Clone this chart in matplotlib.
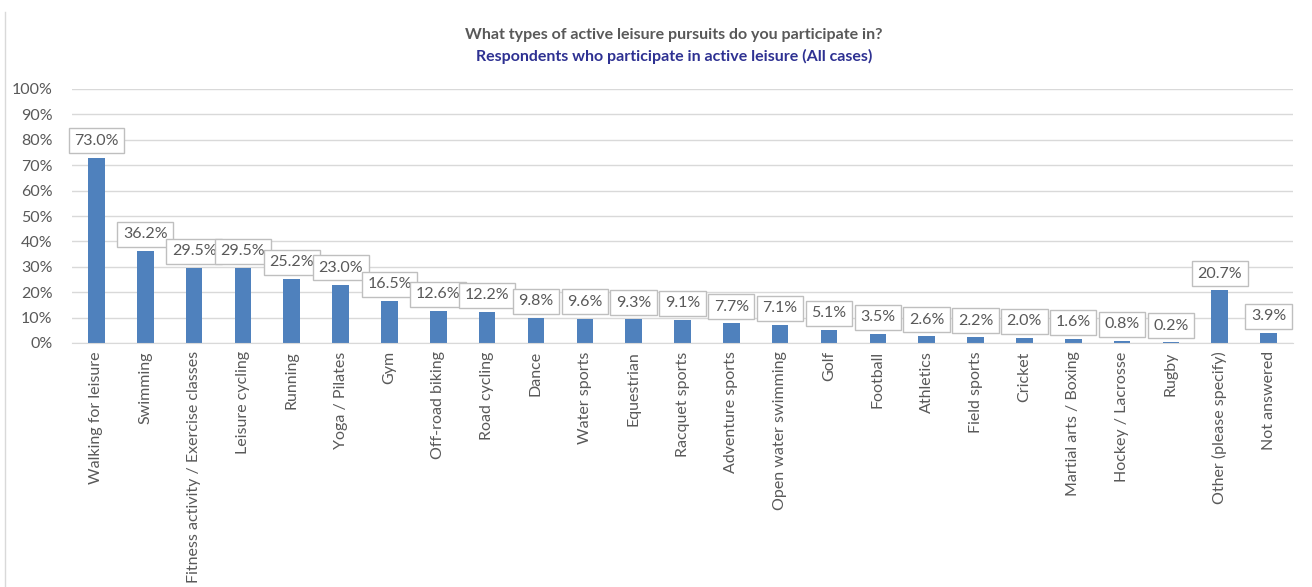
import matplotlib
matplotlib.use("Agg")
import matplotlib.pyplot as plt
from matplotlib.lines import Line2D
import numpy as np

categories = ["Walking for leisure", "Swimming", "Fitness activity / Exercise classes",
              "Leisure cycling", "Running", "Yoga / Pilates", "Gym", "Off-road biking",
              "Road cycling", "Dance", "Water sports", "Equestrian", "Racquet sports",
              "Adventure sports", "Open water swimming", "Golf", "Football", "Athletics",
              "Field sports", "Cricket", "Martial arts / Boxing", "Hockey / Lacrosse",
              "Rugby", "Other (please specify)", "Not answered"]
values = [73.0, 36.2, 29.5, 29.5, 25.2, 23.0, 16.5, 12.6, 12.2, 9.8, 9.6, 9.3, 9.1,
          7.7, 7.1, 5.1, 3.5, 2.6, 2.2, 2.0, 1.6, 0.8, 0.2, 20.7, 3.9]
yticks = list(range(0, 101, 10))

plt.rcParams['font.family'] = ['Lato', 'DejaVu Sans']
grey = '#595959'

fig = plt.figure(figsize=(13.12, 5.87), dpi=100)
ax = fig.add_axes([72 / 1312, 1 - 343 / 587, (1293 - 72) / 1312, (343 - 89) / 587])

x = np.arange(len(categories))
ax.bar(x, values, width=0.34, color='#4f81bd', zorder=2)

for xi, v in zip(x, values):
    ax.annotate(f"{v:.1f}%", (xi, v), xytext=(0, 7), textcoords='offset points',
                ha='center', va='bottom', fontsize=11.5, color=grey, zorder=5,
                bbox=dict(boxstyle='square,pad=0.35', fc='white', ec='#bfbfbf', lw=1))

ax.set_xlim(-0.5, len(categories) - 0.5)
ax.set_ylim(0, 100)
ax.set_yticks(yticks)
ax.set_yticklabels([f"{t}%" for t in yticks], fontsize=11.5, color=grey)
ax.set_xticks(x)
ax.set_xticklabels(categories, rotation=90, fontsize=11.5, color=grey)
ax.tick_params(length=0, pad=6)
ax.tick_params(axis='y', pad=14)
ax.grid(axis='y', color='#d9d9d9', lw=1, zorder=0)
for s in ['top', 'right', 'left']:
    ax.spines[s].set_visible(False)
ax.spines['bottom'].set_color('#d9d9d9')

fig.text(0.5 + 18 / 1312, 1 - 35 / 587, "What types of active leisure pursuits do you participate in?",
         ha='center', va='center', fontsize=11.5, fontweight='bold', color=grey)
fig.text(0.5 + 18 / 1312, 1 - 56 / 587, "Respondents who participate in active leisure (All cases)",
         ha='center', va='center', fontsize=11.5, fontweight='bold', color='#2e3192')

fig.add_artist(Line2D([5 / 1312, 5 / 1312], [0, 1 - 12 / 587], transform=fig.transFigure,
                      color='#d9d9d9', lw=1))

fig.savefig("out.png", dpi=100)
